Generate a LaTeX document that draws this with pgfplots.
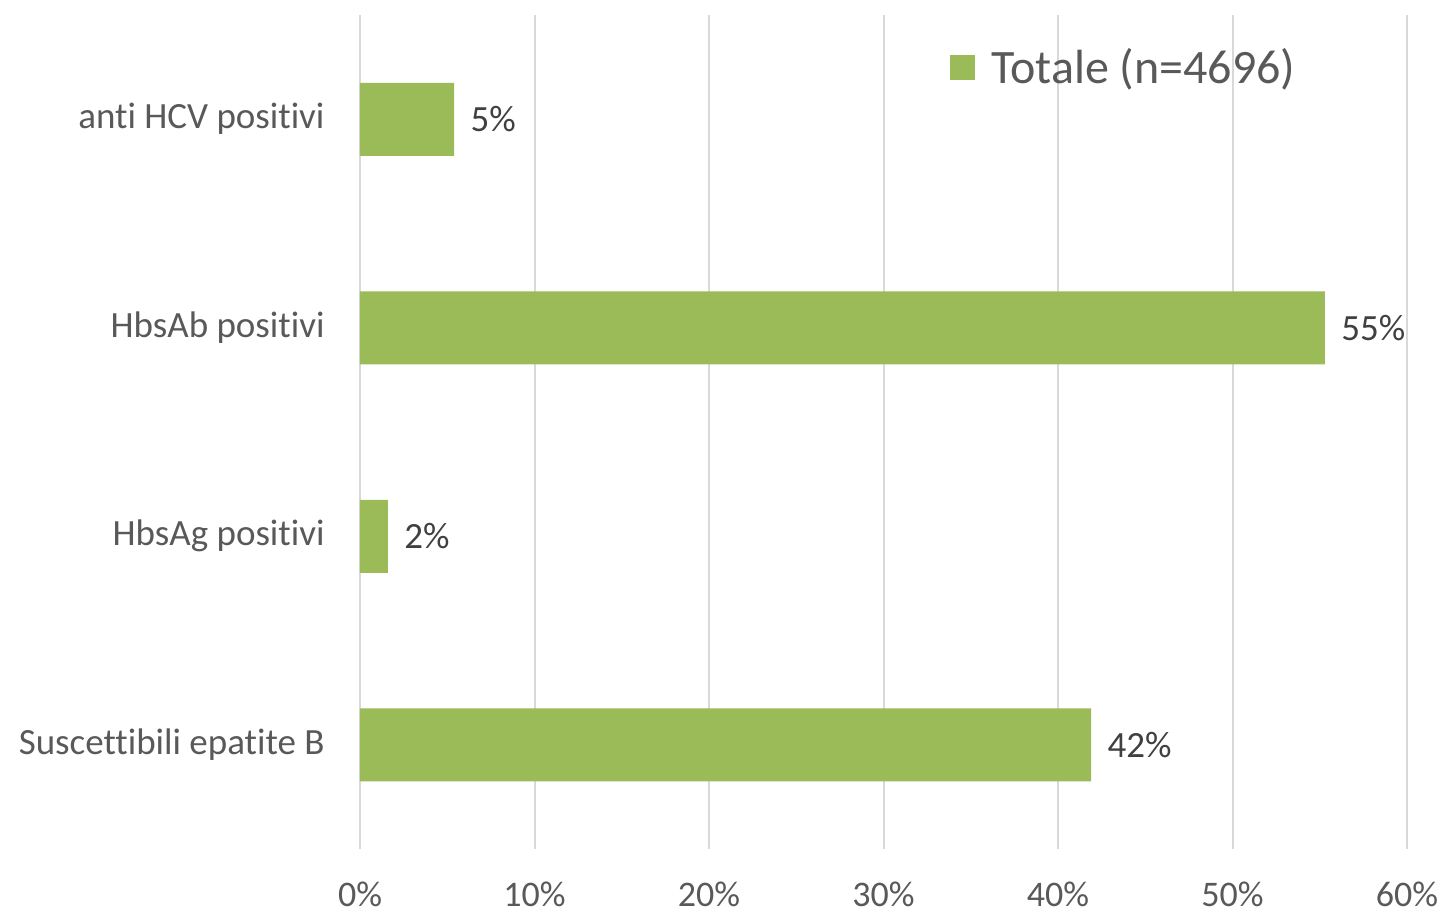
\documentclass[border=0pt]{standalone}
\usepackage{pgfplots}
\pgfplotsset{compat=1.18}
\usepackage{fontspec}
\setmainfont{Carlito}[Ligatures=NoCommon]
\definecolor{bargreen}{HTML}{9BBB59}
\definecolor{txtgray}{HTML}{595959}
\definecolor{lblgray}{HTML}{404040}
\definecolor{gridgray}{HTML}{D9D9D9}
\begin{document}
\begin{tikzpicture}
\begin{axis}[
    scale only axis,
    width=523.5pt,
    height=417pt,
    xbar,
    bar width=36.5pt,
    xmin=0, xmax=60,
    ymin=-0.5, ymax=3.5,
    axis line style={draw=none},
    major tick length=0pt,
    xtick={0,10,20,30,40,50,60},
    xticklabels={0\%,10\%,20\%,30\%,40\%,50\%,60\%},
    ytick={0,1,2,3},
    yticklabels={Suscettibili epatite B,HbsAg positivi,HbsAb positivi,anti HCV positivi},
    xmajorgrids,
    grid style={draw=gridgray,line width=1pt},
    xticklabel style={font=\fontsize{18}{22}\selectfont,text=txtgray,anchor=center,inner sep=0pt,yshift=-22.5pt},
    yticklabel style={font=\fontsize{18.5}{22}\selectfont,text=txtgray,anchor=east,inner sep=0pt,xshift=-17.5pt},
    point meta=x,
    nodes near coords={\pgfmathprintnumber[fixed,precision=0]{\pgfplotspointmeta}\%},
    nodes near coords style={font=\fontsize{18.5}{22}\selectfont,text=lblgray,inner sep=0pt,xshift=8pt,anchor=west},
    /pgf/number format/assume math mode=true,
    legend style={at={(0.5635,0.9376)},anchor=west,draw=none,fill=none,inner sep=0pt,
        font=\fontsize{24}{28}\selectfont,text=txtgray,
        /tikz/every even column/.append style={column sep=0pt}},
    legend cell align=left,
    legend image code/.code={\fill[bargreen] (0pt,-6.25pt) rectangle (12.5pt,6.25pt);},
]
\addplot[fill=bargreen,draw=none] coordinates {
    (41.9,0) (1.6,1) (55.3,2) (5.4,3)
};
\legend{\hspace{6pt}Totale (n=4696)}
\end{axis}
\pgfresetboundingbox
\path[use as bounding box] (-180pt,-31.5pt) rectangle (541.5pt,424.5pt);
\end{tikzpicture}
\end{document}
